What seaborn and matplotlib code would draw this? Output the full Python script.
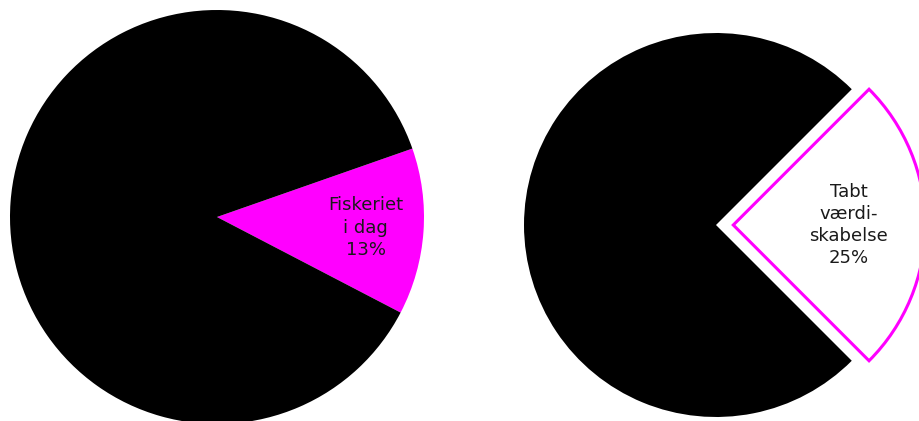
import seaborn as sns
import matplotlib.pyplot as plt

# data
left_labels = ["Fiskeriet\ni dag\n13%", ""]
left_values = [13, 87]
right_labels = ["Tabt\nværdi-\nskabelse\n25%", ""]
right_values = [25, 75]

sns.set_theme(style="white")
plt.rcParams['font.family'] = ['DejaVu Sans']

fig = plt.figure(figsize=(9.2, 4.21), dpi=100)
W, H = 920, 421

def axes_at(cx, cy, r, lim):
    # cx, cy in pixels from top-left, r = pie radius in pixels
    size = 2 * lim * r
    ax = fig.add_axes([(cx - lim * r) / W, (H - cy - lim * r) / H, size / W, size / H])
    ax.set_xlim(-lim, lim)
    ax.set_ylim(-lim, lim)
    ax.set_aspect('equal')
    ax.axis('off')
    return ax

txt = dict(fontsize=13, color="#1a1a1a", linespacing=1.3)

# left pie
ax1 = axes_at(217, 217, 207, 1.02)
wedges, texts = ax1.pie(left_values, labels=left_labels, colors=["#ff00ff", "black"],
                        startangle=-27.5, counterclock=True, labeldistance=0.72,
                        wedgeprops=dict(linewidth=0), textprops=txt)
for t in texts:
    t.set_ha('center')
    t.set_va('center')
ax1.set_xlim(-1.02, 1.02)
ax1.set_ylim(-1.02, 1.02)

# right pie, exploded wedge with magenta outline
ax2 = axes_at(716, 225, 192, 1.15)
wedges, texts = ax2.pie(right_values, labels=right_labels, colors=["white", "black"],
                        startangle=-45, explode=[0.09, 0], labeldistance=0.6,
                        wedgeprops=dict(linewidth=0), textprops=txt)
wedges[0].set_edgecolor("#ff00ff")
wedges[0].set_linewidth(2.2)
for t in texts:
    t.set_ha('center')
    t.set_va('center')
ax2.set_xlim(-1.15, 1.15)
ax2.set_ylim(-1.15, 1.15)

fig.savefig("out.png", dpi=100)
